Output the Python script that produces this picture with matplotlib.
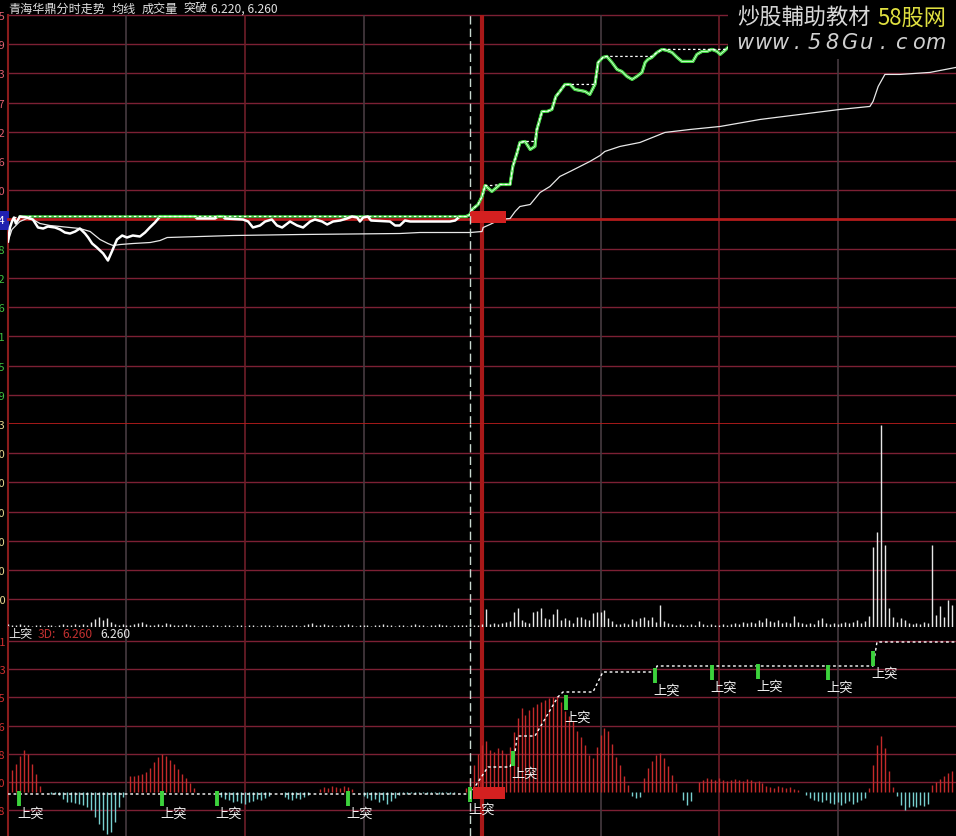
import numpy as np
import matplotlib.pyplot as plt
from matplotlib.patches import Rectangle

plt.rcParams['font.family'] = ['Noto Sans CJK SC', 'DejaVu Sans']

W, H = 956, 837

# ---- values (minutes since 9:30, 240 = close) ----
prev_close = 5.84
price_step = 0.0584          # one grid row = 1%

price_pts = [(0, 5.796), (0.5, 5.824), (1.0, 5.836), (1.5, 5.844), (2.0, 5.832), (3.0, 5.846),
             (4.8, 5.844), (6.3, 5.840), (7.6, 5.824), (8.9, 5.822), (10.1, 5.826), (11.9, 5.824),
             (13.2, 5.820), (14.4, 5.814), (15.7, 5.812), (17.0, 5.816), (18.2, 5.822), (19.5, 5.812),
             (20.3, 5.804), (21.3, 5.792), (22.5, 5.784), (24.1, 5.772), (25.3, 5.758), (26.3, 5.776),
             (27.6, 5.800), (28.9, 5.808), (30.1, 5.804), (31.6, 5.808), (33.4, 5.806), (34.7, 5.814),
             (35.9, 5.824), (37.2, 5.834), (38.5, 5.846), (39.2, 5.846), (47.3, 5.846), (47.8, 5.842),
             (52.4, 5.842), (53.2, 5.846), (54.4, 5.846), (54.9, 5.842), (59.5, 5.840), (60.8, 5.836),
             (62.0, 5.824), (63.8, 5.828), (65.1, 5.836), (66.8, 5.840), (68.1, 5.828), (69.4, 5.824),
             (71.4, 5.836), (73.2, 5.828), (74.7, 5.824), (76.5, 5.836), (77.7, 5.840), (79.5, 5.836),
             (80.8, 5.830), (82.3, 5.836), (84.1, 5.838), (85.8, 5.842), (87.1, 5.846), (88.4, 5.844),
             (89.1, 5.836), (89.9, 5.844), (91.1, 5.846), (91.9, 5.838), (96.7, 5.836), (98.0, 5.828),
             (99.2, 5.828), (100.5, 5.838), (101.8, 5.836), (111.9, 5.836), (113.2, 5.838), (114.4, 5.846),
             (116.0, 5.846), (117.0, 5.850), (117.5, 5.860), (119.0, 5.870), (120.0, 5.886), (120.8, 5.908),
             (122.5, 5.896), (124.6, 5.910), (127.1, 5.910), (127.8, 5.946), (128.9, 5.974), (129.6, 5.994),
             (130.9, 5.996), (132.2, 5.980), (133.4, 5.986), (133.9, 6.020), (135.2, 6.056), (136.5, 6.056),
             (137.7, 6.060), (138.7, 6.086), (139.7, 6.096), (141.0, 6.110), (142.3, 6.110), (143.5, 6.100),
             (146.1, 6.096), (147.3, 6.090), (148.6, 6.110), (149.4, 6.154), (150.6, 6.164), (151.6, 6.166),
             (152.9, 6.154), (154.2, 6.140), (155.4, 6.136), (156.7, 6.126), (158.0, 6.120), (159.2, 6.126),
             (160.5, 6.134), (161.3, 6.154), (162.0, 6.160), (163.0, 6.164), (164.3, 6.174), (165.6, 6.180),
             (166.8, 6.178), (168.1, 6.174), (169.4, 6.164), (170.6, 6.156), (173.4, 6.156), (174.4, 6.170),
             (175.7, 6.176), (177.0, 6.176), (178.2, 6.180), (179.5, 6.176), (180.3, 6.170), (181.5, 6.178),
             (182.3, 6.184)]

avg_pts = [(0, 5.796), (1.0, 5.820), (3.0, 5.836), (4.8, 5.842), (6.3, 5.840), (8.1, 5.832),
           (10.6, 5.828), (13.2, 5.826), (15.7, 5.824), (18.2, 5.822), (20.8, 5.816), (23.3, 5.800),
           (25.3, 5.792), (26.6, 5.788), (28.4, 5.790), (31.6, 5.792), (36.0, 5.794), (38.5, 5.798),
           (40.3, 5.804), (48.6, 5.806), (57.0, 5.808), (73.9, 5.810), (99.2, 5.812), (104.3, 5.814),
           (117.0, 5.814), (120.0, 5.816), (120.3, 5.824), (122.0, 5.830), (124.6, 5.840), (127.1, 5.842),
           (128.4, 5.856), (129.6, 5.866), (132.2, 5.870), (134.7, 5.894), (137.2, 5.906), (139.7, 5.926),
           (142.3, 5.936), (144.8, 5.946), (147.3, 5.956), (149.9, 5.968), (151.1, 5.976), (154.9, 5.986),
           (160.0, 5.994), (163.8, 6.006), (166.3, 6.014), (172.7, 6.020), (180.3, 6.026), (190.4, 6.040),
           (200.5, 6.050), (210.6, 6.060), (218.2, 6.066), (219.0, 6.076), (220.3, 6.106), (222.0, 6.130),
           (225.8, 6.130), (233.4, 6.134), (234.7, 6.136), (240.0, 6.144)]

# volume per minute (hundreds of lots)
volume = [3, 2, 2, 3, 2, 2, 1, 2, 2, 1,
          2, 2, 1, 2, 3, 2, 2, 3, 2, 3,
          2, 5, 8, 10, 7, 9, 5, 3, 2, 3,
          2, 2, 3, 4, 5, 3, 2, 2, 3, 2,
          4, 3, 2, 2, 2, 3, 2, 2, 1, 2,
          2, 1, 2, 2, 1, 2, 2, 1, 2, 2,
          1, 2, 2, 1, 2, 2, 2, 1, 2, 2,
          2, 1, 2, 2, 1, 2, 3, 4, 2, 2,
          3, 2, 2, 1, 2, 2, 3, 2, 1, 2,
          2, 2, 1, 2, 2, 3, 2, 2, 1, 2,
          2, 1, 2, 3, 2, 2, 1, 2, 2, 3,
          2, 2, 1, 2, 2, 2, 2, 3, 2, 2,
          3, 18, 3, 4, 3, 4, 5, 6, 15, 19,
          7, 5, 4, 15, 16, 19, 9, 8, 13, 18,
          7, 9, 7, 4, 10, 10, 8, 7, 14, 15,
          15, 17, 9, 6, 3, 3, 4, 3, 8, 6,
          9, 10, 7, 10, 5, 22, 6, 4, 3, 2,
          3, 2, 2, 3, 2, 6, 3, 2, 3, 2,
          2, 3, 2, 3, 4, 3, 5, 4, 5, 4,
          7, 5, 9, 6, 5, 7, 4, 5, 4, 11,
          5, 4, 3, 4, 3, 7, 9, 4, 3, 4,
          3, 4, 5, 4, 5, 7, 4, 6, 11, 80,
          95, 202, 82, 19, 10, 5, 9, 7, 4, 3,
          4, 3, 5, 4, 82, 12, 21, 10, 27, 22]

# breakout oscillator per minute
osc = [0, 22, 28, 36, 42, 38, 28, 18, 6, 0,
       0, -2, -2, -3, -7, -10, -10, -11, -12, -13,
       -15, -18, -25, -32, -38, -42, -40, -30, -15, -5,
       0, 16, 16, 17, 18, 20, 24, 30, 35, 38,
       36, 32, 28, 23, 18, 14, 9, 4, 0, 0,
       0, 0, 0, 0, -5, -7, -8, -10, -9, -11,
       -12, -10, -9, -7, -8, -6, -4, 0, 0, 0,
       -5, -7, -8, -6, -7, -5, -3, 0, 0, 3,
       5, 4, 6, 5, 4, 6, 5, 3, 0, 0,
       -4, -6, -8, -7, -10, -8, -12, -9, -6, -3,
       -1, -2, -1, -2, -1, -1, -2, -1, -1, -2,
       -1, -1, -2, -1, 0, 0, 4, 14, 27, 38,
       47, 51, 42, 40, 44, 42, 38, 45, 60, 74,
       84, 77, 82, 85, 88, 90, 92, 94, 95, 96,
       90, 81, 76, 71, 61, 55, 47, 37, 34, 45,
       57, 64, 61, 48, 35, 27, 16, 7, -4, -6,
       -5, 14, 24, 31, 37, 39, 34, 26, 17, 9,
       0, -8, -13, -9, 0, 10, 12, 14, 13, 12,
       14, 12, 11, 12, 13, 12, 11, 13, 12, 10,
       11, 9, 6, 5, 4, 6, 5, 4, 5, 3,
       2, 0, -3, -6, -8, -9, -10, -8, -11, -12,
       -10, -13, -11, -9, -12, -10, -8, -6, 4, 27,
       47, 56, 44, 21, 5, -4, -13, -18, -15, -14,
       -15, -13, -14, -12, 7, 10, 13, 16, 19, 21]

step_t = [0, 117.0, 119.0, 121.5, 127.1, 128.4, 128.9, 133.4, 139.2, 140.5, 148.1, 150.6, 163.8, 164.3, 219.0, 220.0, 240]
step_v = [-2, -2, 10, 25, 25, 41, 56, 56, 95, 100, 100, 120, 120, 126, 126, 150, 150]

break_t = [2.8, 39.0, 52.9, 86.1, 117.0, 127.8, 141.3, 163.8, 178.2, 189.9, 207.6, 219.0]
break_top = [1, 1, 1, 1, 5, 41, 97, 124, 127, 128, 127, 141]

cursor_t = 117.0
title_parts = [('青海华鼎分时走势', 8), ('均线', 112), ('成交量', 142), ('突破', 183), ('6.220, 6.260', 211)]

# ---- figure ----
fig = plt.figure(figsize=(W / 100, H / 100), dpi=100, facecolor='black')


def px_axes(y_top, y_bot):
    ax = fig.add_axes([8 / W, 1 - y_bot / H, 948 / W, (y_bot - y_top) / H])
    ax.set_facecolor('black')
    for s in ax.spines.values():
        s.set_visible(False)
    ax.set_xlim(0, 240)
    ax.set_xticks([])
    ax.tick_params(axis='y', length=0, pad=2, labelsize=8)
    return ax


ax1 = px_axes(16, 425)
ax2 = px_axes(425, 628)
ax3 = px_axes(628, 837)

grid_c = '#7c2034'
thick_red = '#b41c1c'


def vgrid(ax):
    for m in range(0, 240, 30):
        if m == 0:
            ax.axvline(m, color='#8a1c1c', lw=1.5, clip_on=False, zorder=1)
        elif m == 120:
            ax.axvline(m, color='#a81818', lw=3, zorder=1)
        elif m in (60, 180):
            ax.axvline(m, color='#6e1e28', lw=1.2, zorder=1)
        else:
            ax.axvline(m, color='#463a40', lw=1.2, zorder=1)
    ax.axvline(cursor_t, color='#c8d8d0', lw=1, ls=(0, (6, 3)), zorder=6)


# price panel
lo, hi = prev_close - 7 * price_step, prev_close + 7 * price_step
ax1.set_ylim(lo, hi)
ticks1 = [prev_close + k * price_step for k in range(-7, 8)]
for k, v in zip(range(-7, 8), ticks1):
    if k in (0, -7):
        ax1.axhline(v, color=thick_red, lw=2, clip_on=False, zorder=2)
    else:
        ax1.axhline(v, color=grid_c, lw=1, clip_on=False, zorder=1)
vgrid(ax1)
ax1.set_yticks(ticks1)
ax1.set_yticklabels([f'{v:.2f}' for v in ticks1])
for k, lab in zip(range(-7, 8), ax1.get_yticklabels()):
    if k == -7:
        lab.set_color('#e8d890')
    elif k > 0:
        lab.set_color('#e06070')
    elif k < 0:
        lab.set_color('#40c040')
    else:
        lab.set_color('white')
        lab.set_bbox(dict(facecolor='#2020b0', edgecolor='none', pad=3))

pt = np.array([p[0] for p in price_pts])
pv = np.array([p[1] for p in price_pts])
at = [p[0] for p in avg_pts]
av = [p[1] for p in avg_pts]

morning_high = pv[pt < 116].max()
runmax = np.maximum.accumulate(pv)
ax1.plot(at, av, color='#e8e8e8', lw=0.9, zorder=4)
mm = (pt <= cursor_t) & (pt >= 3)
ax1.plot(pt[mm], runmax[mm], color='#3cc83c', lw=1.8, zorder=3)
ax1.plot(pt, pv, color='white', lw=1.8, zorder=4)
green = np.ma.masked_less(pv, morning_high - 1e-6)
ax1.plot(pt, green, color='#3cd23c', lw=2.3, zorder=5)
ax1.plot(pt, green, color='#d8ffd8', lw=0.6, zorder=5)
ax1.plot(pt, runmax, color='white', lw=0.9, ls=(0, (2, 2)), zorder=5)
ax1.add_patch(Rectangle((cursor_t, prev_close - 0.006), 9.2, 0.022, facecolor='#d42020',
                        edgecolor='none', zorder=5))

# volume panel
minutes = np.arange(240)
ax2.set_ylim(0, 203)
vt = [203 - 29.2 * k for k in range(1, 7)]
for v in vt:
    ax2.axhline(v, color=grid_c, lw=1, zorder=1)
vgrid(ax2)
ax2.vlines(minutes, 0, volume, colors='#e6e6e6', lw=1, zorder=3)
ax2.set_yticks(vt)
ax2.set_yticklabels([f'{int(v * 50)}' for v in vt])
for lab in ax2.get_yticklabels():
    lab.set_color('#e8d890')

# breakout indicator panel
ax3.set_ylim(-44, 165)
gt = [151 - 28.17 * k for k in range(7)]
for v in gt:
    ax3.axhline(v, color=grid_c, lw=1, zorder=1)
vgrid(ax3)
ax3.set_yticks(gt)
ax3.set_yticklabels([f'{v / 100:.2f}' for v in gt])
for lab in ax3.get_yticklabels():
    lab.set_color('#d03030')
osc_a = np.array(osc)
ax3.vlines(minutes, 0, osc_a, colors=np.where(osc_a > 0, '#c42a2a', '#78d0d0'), lw=1, zorder=3)
ax3.plot(step_t, step_v, color='white', lw=1, ls=(0, (2, 2)), zorder=4)
ax3.add_patch(Rectangle((cursor_t + 0.7, -7), 8.1, 12, facecolor='#d42020', edgecolor='none', zorder=4))
for t, top in zip(break_t, break_top):
    ax3.vlines(t, top - 15, top, colors='#3cd23c', lw=2.8, zorder=5)
    ax3.text(t - 0.4, top - 16, '上突', color='#f0f0f0', fontsize=9.5, ha='left', va='top', zorder=6)

# titles
for txt, x in title_parts:
    fig.text(x / W, 1 - 9 / H, txt, color='#e0e0e0', fontsize=8.7, va='center', ha='left')
fig.text(8 / W, 1 - 635 / H, '上突', color='#e8e8e8', fontsize=8.7, va='center')
fig.text(38 / W, 1 - 635 / H, '3D:', color='#c03030', fontsize=8.7, va='center')
fig.text(62 / W, 1 - 635 / H, '6.260', color='#c03030', fontsize=8.7, va='center')
fig.text(100 / W, 1 - 635 / H, '6.260', color='#e8e8e8', fontsize=8.7, va='center')

# watermark block
fig.add_artist(Rectangle((728 / W, 1 - 60 / H), 228 / W, 60 / H, transform=fig.transFigure,
                         facecolor='black', edgecolor='none', zorder=10))
fig.text(737 / W, 1 - 18 / H, '炒股輔助教材', color='#d8d8d8', fontsize=16, va='center', zorder=11)
fig.text(877 / W, 1 - 18 / H, '58股网', color='#e0e040', fontsize=16, va='center', zorder=11)
for i, ch in enumerate('www.58Gu.com'):
    fig.text((745 + i * 17.3) / W, 1 - 43 / H, ch, color='#d0d0d0', fontsize=15, ha='center',
             va='center', family='DejaVu Sans', style='italic', zorder=11)

fig.savefig('out.png', dpi=100, facecolor='black')
